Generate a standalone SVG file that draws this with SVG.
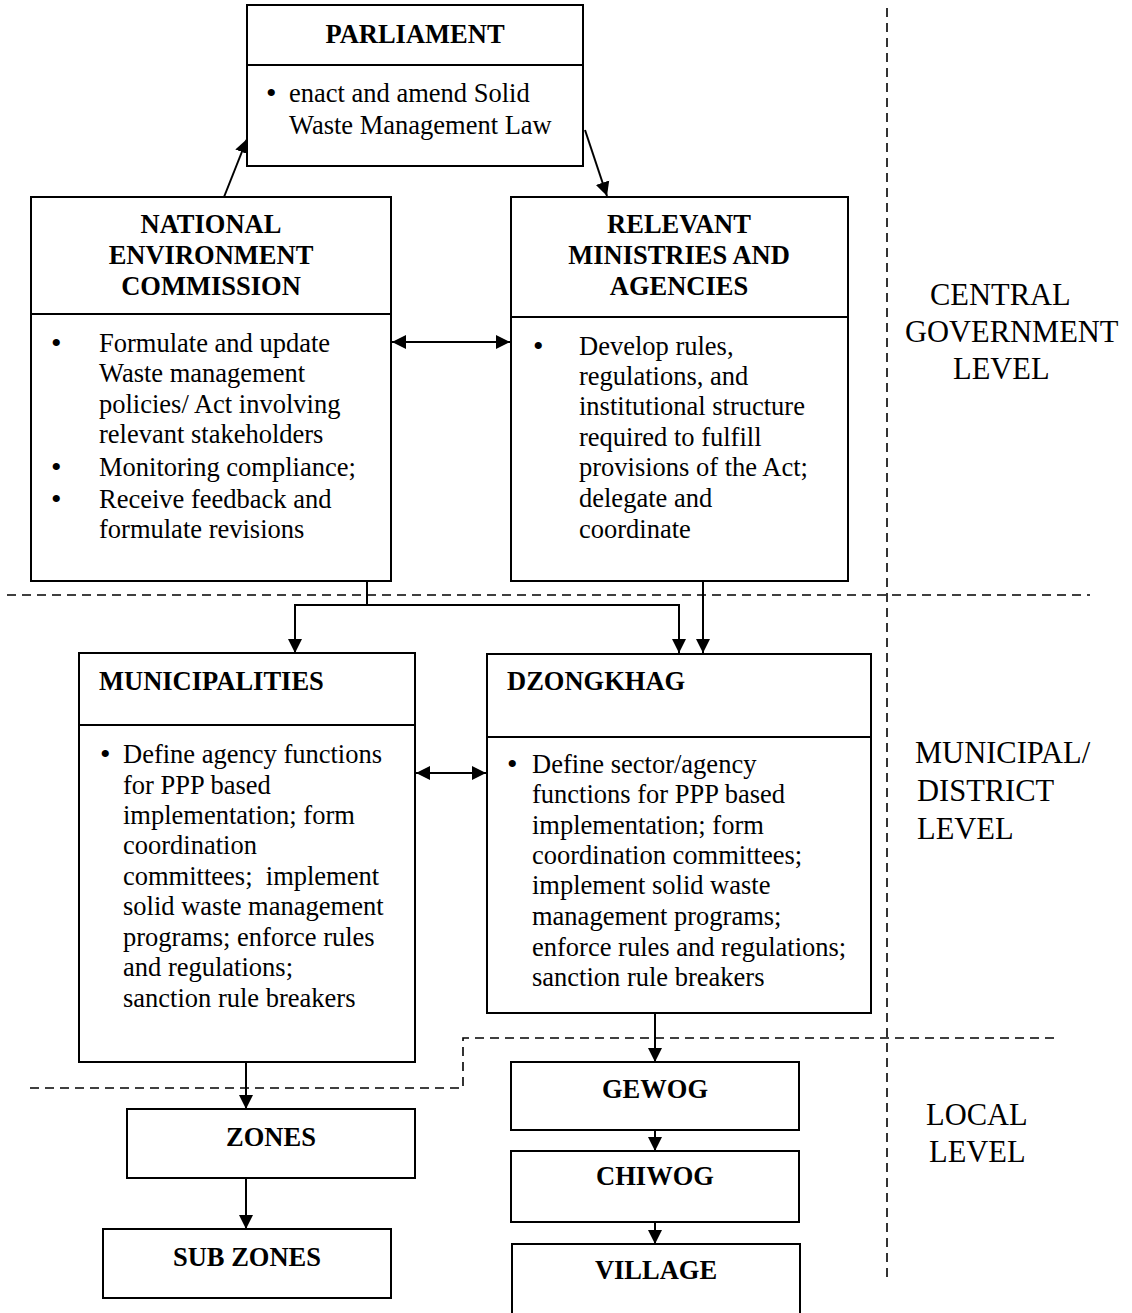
<svg xmlns="http://www.w3.org/2000/svg" width="1132" height="1313" viewBox="0 0 1132 1313">
<style>
text{font-family:"Liberation Serif","Times New Roman",serif;font-size:26.5px;fill:#000}
.t{font-weight:bold}
.c{text-anchor:middle}
.b{font-size:30px}
.lvl{font-size:30.5px}
.box{fill:#fff;stroke:#000;stroke-width:2}
.div{stroke:#000;stroke-width:2}
.cn{fill:none;stroke:#000;stroke-width:2}
.dash{fill:none;stroke:#000;stroke-width:1.6;stroke-dasharray:9 6}
</style>
<defs>
<marker id="ah" markerUnits="userSpaceOnUse" markerWidth="16" markerHeight="16" viewBox="0 0 16 16" refX="14" refY="8" orient="auto-start-reverse">
<path d="M0,1 L14,8 L0,15 z" fill="#000"/>
</marker>
</defs>
<rect width="1132" height="1313" fill="#fff"/>

<g id="level-lines">
<path class="dash" d="M7,595 H1090"/>
<path class="dash" d="M887,8 V1278"/>
<path class="dash" d="M30,1088 H463 V1038 H1058"/>
</g>

<g id="level-labels">
<text class="lvl" x="930" y="305">CENTRAL</text>
<text class="lvl" x="905" y="342">GOVERNMENT</text>
<text class="lvl" x="953" y="379">LEVEL</text>
<text class="lvl" x="915" y="763">MUNICIPAL/</text>
<text class="lvl" x="917" y="801">DISTRICT</text>
<text class="lvl" x="917" y="839">LEVEL</text>
<text class="lvl" x="926" y="1125">LOCAL</text>
<text class="lvl" x="929" y="1162">LEVEL</text>
</g>

<g id="connectors">
<path class="cn" d="M224,197 L247,139" marker-end="url(#ah)"/>
<path class="cn" d="M585,130 L607,196" marker-end="url(#ah)"/>
<path class="cn" d="M392,342 H510" marker-start="url(#ah)" marker-end="url(#ah)"/>
<path class="cn" d="M367,581 V605 H295 V653" marker-end="url(#ah)"/>
<path class="cn" d="M367,605 H679 V653" marker-end="url(#ah)"/>
<path class="cn" d="M703,581 V653" marker-end="url(#ah)"/>
<path class="cn" d="M416,773 H486" marker-start="url(#ah)" marker-end="url(#ah)"/>
<path class="cn" d="M246,1062 V1109" marker-end="url(#ah)"/>
<path class="cn" d="M246,1178 V1229" marker-end="url(#ah)"/>
<path class="cn" d="M655,1013 V1062" marker-end="url(#ah)"/>
<path class="cn" d="M655,1130 V1151" marker-end="url(#ah)"/>
<path class="cn" d="M655,1222 V1244" marker-end="url(#ah)"/>
</g>

<g id="parliament">
<rect class="box" x="247" y="5" width="336" height="161"/>
<line class="div" x1="247" y1="65" x2="583" y2="65"/>
<text class="t c" x="415" y="43">PARLIAMENT</text>
<text class="b" x="266" y="103">•</text>
<text x="289" y="102">enact and amend Solid</text>
<text x="289" y="134">Waste Management Law</text>
</g>

<g id="nec">
<rect class="box" x="31" y="197" width="360" height="384"/>
<line class="div" x1="31" y1="314" x2="391" y2="314"/>
<text class="t c" x="211" y="233">NATIONAL</text>
<text class="t c" x="211" y="264">ENVIRONMENT</text>
<text class="t c" x="211" y="295">COMMISSION</text>
<text class="b" x="51" y="353">•</text>
<text x="99" y="352">Formulate and update</text>
<text x="99" y="382">Waste management</text>
<text x="99" y="413">policies/ Act involving</text>
<text x="99" y="443">relevant stakeholders</text>
<text class="b" x="51" y="477">•</text>
<text x="99" y="476">Monitoring compliance;</text>
<text class="b" x="51" y="509">•</text>
<text x="99" y="508">Receive feedback and</text>
<text x="99" y="538">formulate revisions</text>
</g>

<g id="rma">
<rect class="box" x="511" y="197" width="337" height="384"/>
<line class="div" x1="511" y1="317" x2="848" y2="317"/>
<text class="t c" x="679" y="233">RELEVANT</text>
<text class="t c" x="679" y="264">MINISTRIES AND</text>
<text class="t c" x="679" y="295">AGENCIES</text>
<text class="b" x="533" y="356">•</text>
<text x="579" y="355">Develop rules,</text>
<text x="579" y="385">regulations, and</text>
<text x="579" y="415">institutional structure</text>
<text x="579" y="446">required to fulfill</text>
<text x="579" y="476">provisions of the Act;</text>
<text x="579" y="507">delegate and</text>
<text x="579" y="538">coordinate</text>
</g>

<g id="municipalities">
<rect class="box" x="79" y="653" width="336" height="409"/>
<line class="div" x1="79" y1="725" x2="415" y2="725"/>
<text class="t" x="99" y="690">MUNICIPALITIES</text>
<text class="b" x="100" y="764">•</text>
<text x="123" y="763">Define agency functions</text>
<text x="123" y="794">for PPP based</text>
<text x="123" y="824">implementation; form</text>
<text x="123" y="854">coordination</text>
<text x="123" y="885" xml:space="preserve">committees;  implement</text>
<text x="123" y="915">solid waste management</text>
<text x="123" y="946">programs; enforce rules</text>
<text x="123" y="976">and regulations;</text>
<text x="123" y="1007">sanction rule breakers</text>
</g>

<g id="dzongkhag">
<rect class="box" x="487" y="654" width="384" height="359"/>
<line class="div" x1="487" y1="737" x2="871" y2="737"/>
<text class="t" x="507" y="690">DZONGKHAG</text>
<text class="b" x="507" y="774">•</text>
<text x="532" y="773">Define sector/agency</text>
<text x="532" y="803">functions for PPP based</text>
<text x="532" y="834">implementation; form</text>
<text x="532" y="864">coordination committees;</text>
<text x="532" y="894">implement solid waste</text>
<text x="532" y="925">management programs;</text>
<text x="532" y="956">enforce rules and regulations;</text>
<text x="532" y="986">sanction rule breakers</text>
</g>

<g id="zones">
<rect class="box" x="127" y="1109" width="288" height="69"/>
<text class="t c" x="271" y="1146">ZONES</text>
</g>
<g id="subzones">
<rect class="box" x="103" y="1229" width="288" height="69"/>
<text class="t c" x="247" y="1266">SUB ZONES</text>
</g>
<g id="gewog">
<rect class="box" x="511" y="1062" width="288" height="68"/>
<text class="t c" x="655" y="1098">GEWOG</text>
</g>
<g id="chiwog">
<rect class="box" x="511" y="1151" width="288" height="71"/>
<text class="t c" x="655" y="1185">CHIWOG</text>
</g>
<g id="village">
<rect class="box" x="512" y="1244" width="288" height="90"/>
<text class="t c" x="656" y="1279">VILLAGE</text>
</g>
</svg>
